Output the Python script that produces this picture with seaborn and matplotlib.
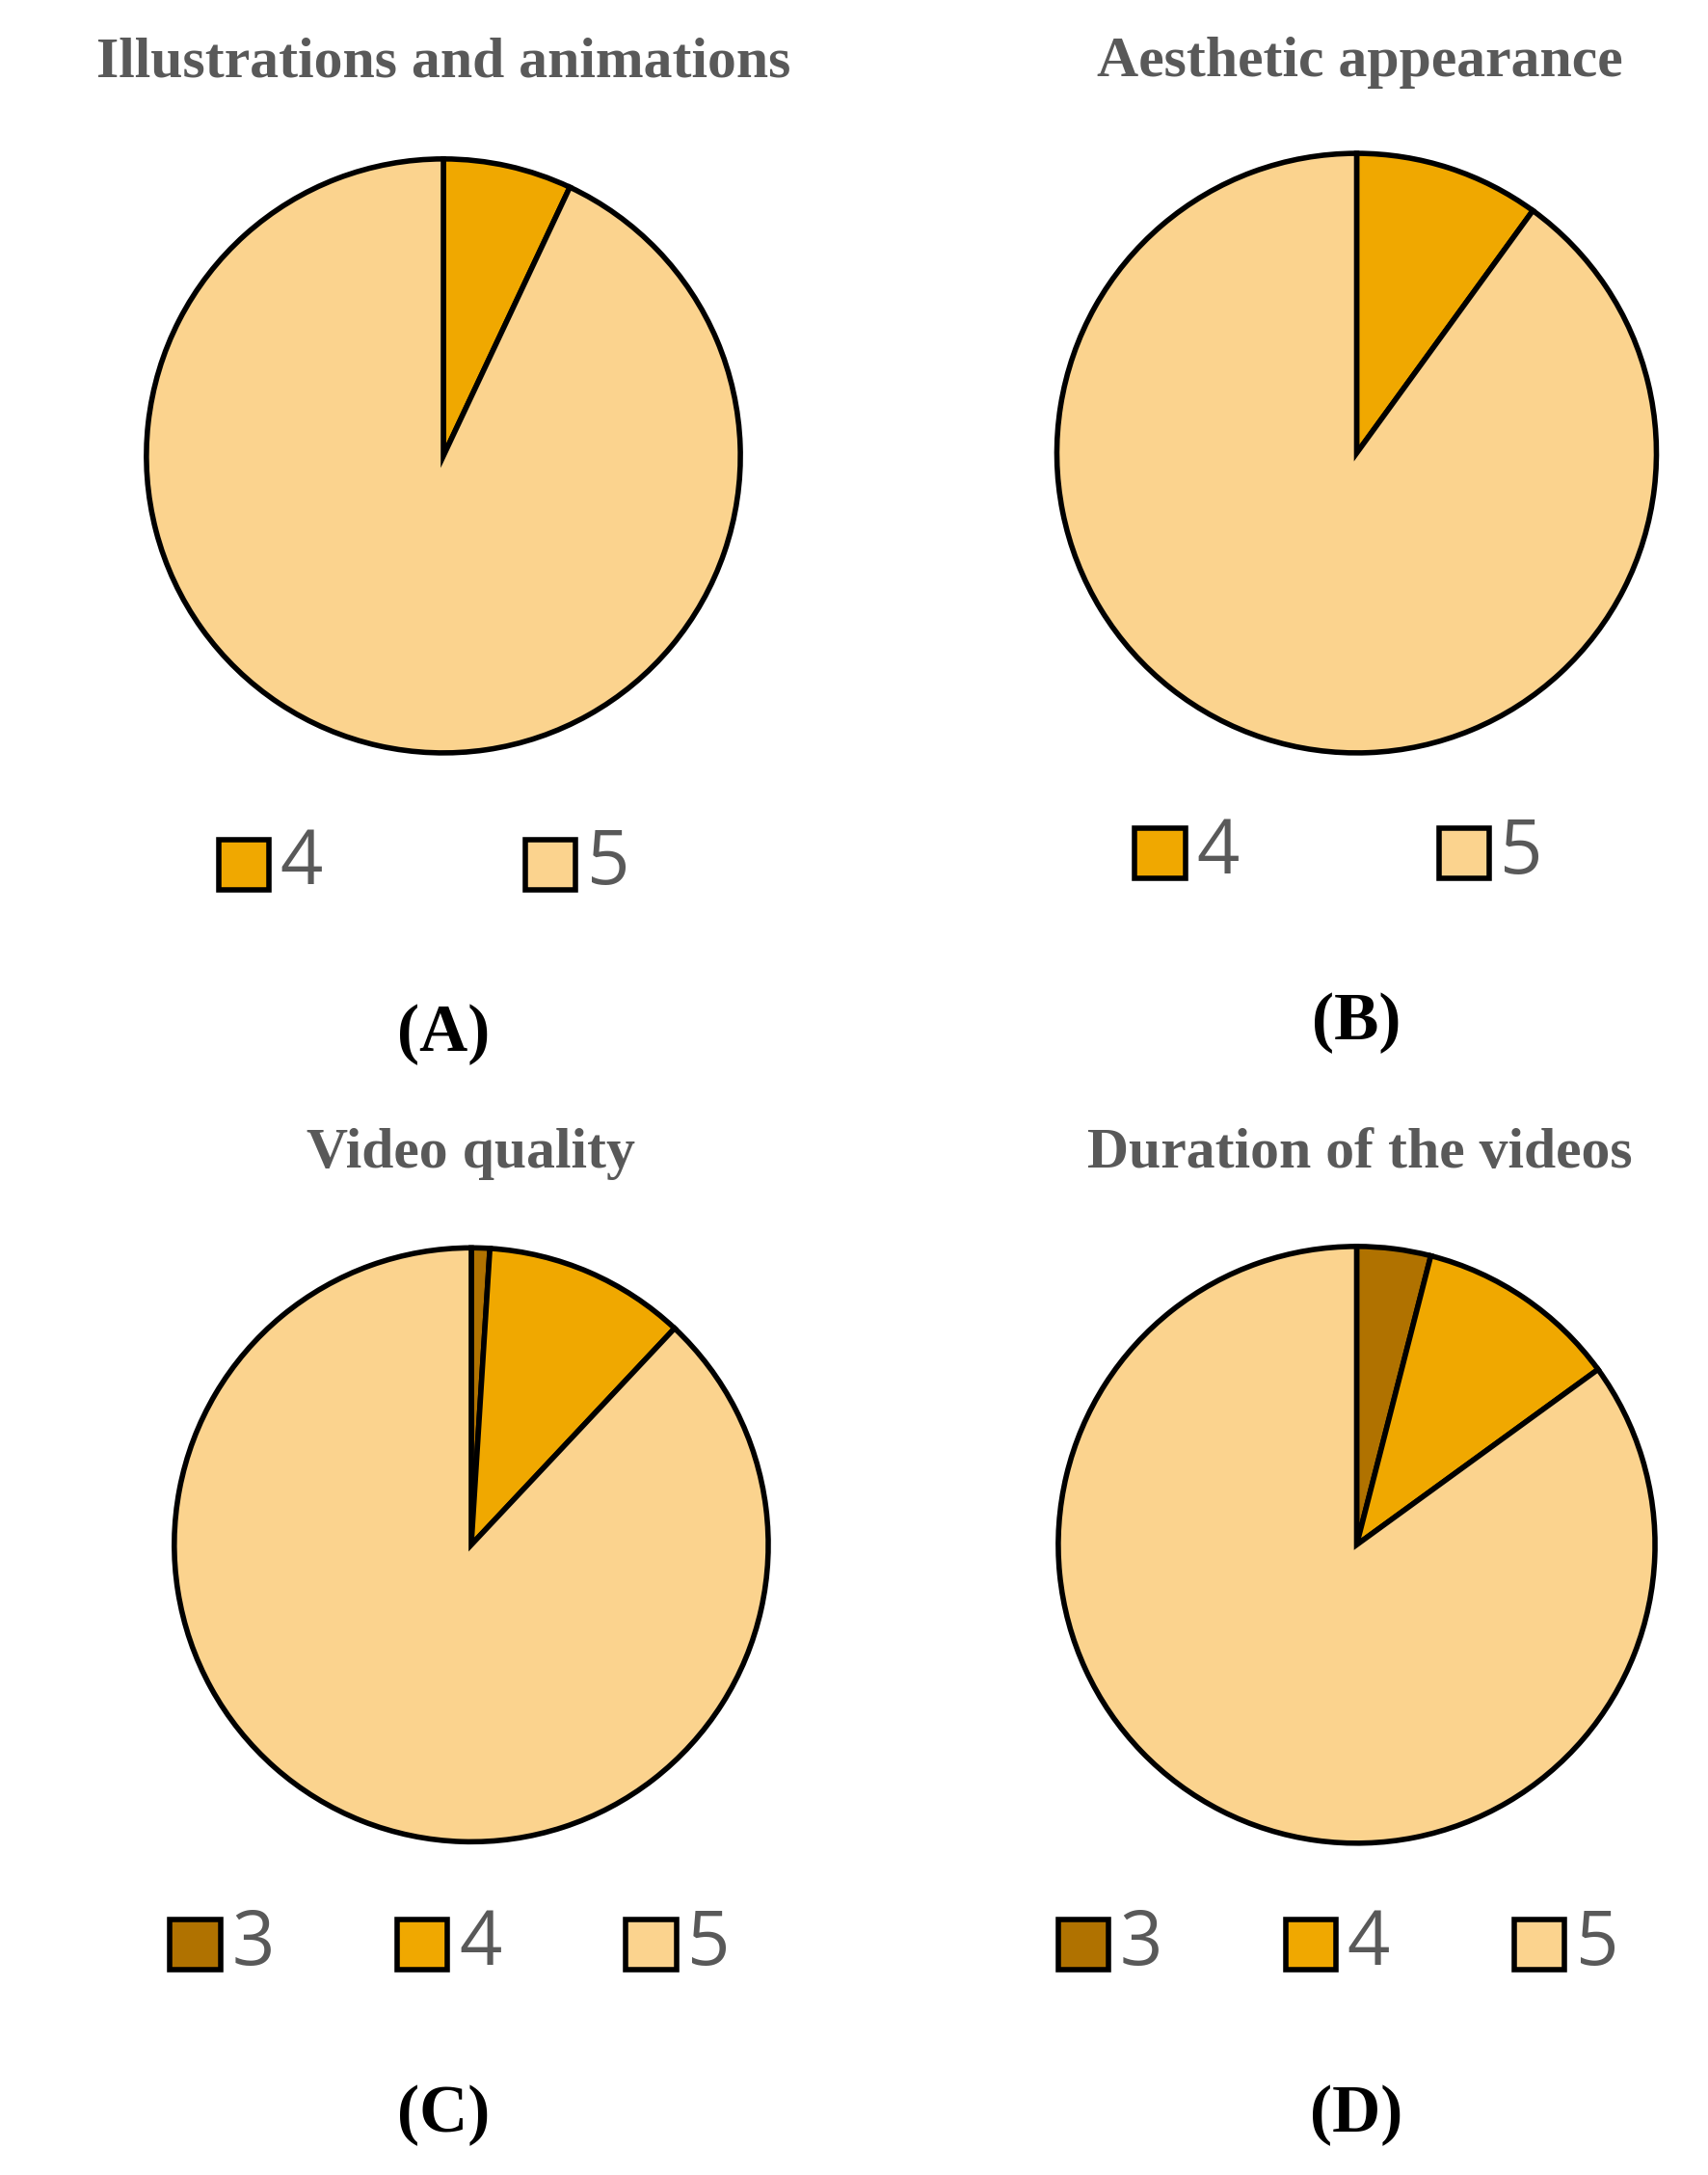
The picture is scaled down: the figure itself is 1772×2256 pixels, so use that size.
import matplotlib
matplotlib.use("Agg")
import matplotlib.pyplot as plt
import seaborn as sns
from matplotlib.patches import Rectangle

sns.set_theme(style="white")

# datos (porcentajes aproximados)
titles = ["Illustrations and animations", "Aesthetic appearance", "Video quality", "Duration of the videos"]
panel_tags = ["(A)", "(B)", "(C)", "(D)"]
labels_ab = ["4", "5"]
labels_cd = ["3", "4", "5"]
vals_a = [7, 93]
vals_b = [10, 90]
vals_c = [1, 11, 88]
vals_d = [4, 11, 85]
colores = {"3": "#B07200", "4": "#F0A800", "5": "#FBD38E"}

W, H = 1225.0, 1560.0
fig = plt.figure(figsize=(17.72, 22.56), dpi=100)

# (centro x, centro y, radio, titulo x, titulo y, leyenda y, posiciones leyenda x, etiqueta x)
paneles = [
    (318, 327, 213, 318, 45, 620, [175, 395], 318),
    (973, 325, 215, 975, 45, 612, [832, 1050], 973),
    (338, 1108, 213, 338, 828, 1395, [140, 303, 467], 318),
    (973, 1108, 214, 975, 828, 1395, [777, 940, 1104], 973),
]
datos = [(vals_a, labels_ab), (vals_b, labels_ab), (vals_c, labels_cd), (vals_d, labels_cd)]

for i, ((cx, cy, r, tx0, ty, ly, lxs, tx), (vals, labs)) in enumerate(zip(paneles, datos)):
    ax = fig.add_axes([(cx - r) / W, 1 - (cy + r) / H, 2 * r / W, 2 * r / H])
    ax.pie(vals, colors=[colores[l] for l in labs], startangle=90, counterclock=False,
           wedgeprops=dict(edgecolor="black", linewidth=4))
    ax.set_aspect("auto")
    ax.set_xlim(-1.0, 1.0)
    ax.set_ylim(-1.0, 1.0)
    ax.axis("off")

    fig.text(tx0 / W, 1 - ty / H, titles[i], ha="center", va="center",
             fontsize=43, fontweight="bold", color="#595959", family="Liberation Serif")

    # leyenda manual
    for lx, lab in zip(lxs, labs):
        s = 36
        fig.patches.append(Rectangle(((lx - s / 2) / W, 1 - (ly + s / 2) / H), s / W, s / H,
                                     transform=fig.transFigure, facecolor=colores[lab],
                                     edgecolor="black", linewidth=4))
        fig.text((lx + 26) / W, 1 - ly / H, lab, ha="left", va="center",
                 fontsize=56, color="#595959", family="Open Sans")

    fig.text(tx / W, 1 - (ly + 122) / H, panel_tags[i], ha="center", va="center",
             fontsize=50, fontweight="bold", color="black", family="Liberation Serif")

fig.savefig("out.png", dpi=100, facecolor="white")
